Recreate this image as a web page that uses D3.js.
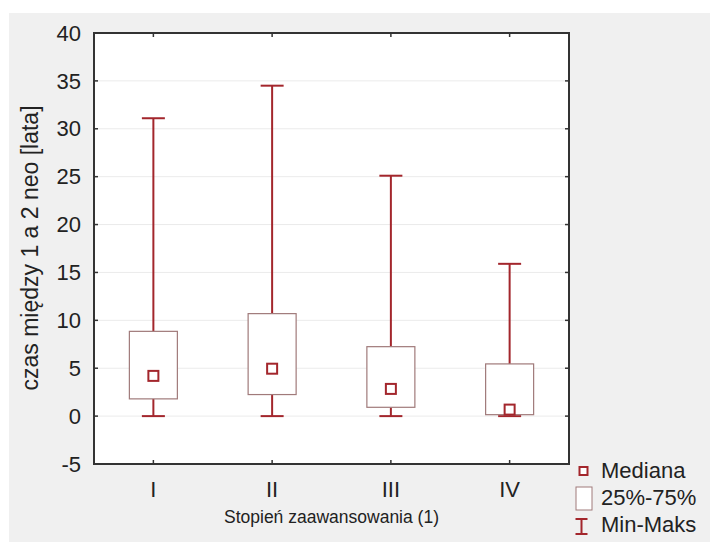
<!DOCTYPE html>
<html>
<head>
<meta charset="utf-8">
<script src="https://cdn.jsdelivr.net/npm/d3@7"></script>
<style>
  html, body { margin: 0; padding: 0; background: #ffffff; }
  svg { display: block; font-family: "Liberation Sans", Arial, sans-serif; }
</style>
</head>
<body>
<svg id="chart" width="710" height="542"></svg>
<script>
// Stage categories and box-plot statistics (years)
const categories = ["I", "II", "III", "IV"];
const minValues = [0, 0, 0, 0];
const q1Values = [1.8, 2.25, 0.92, 0.15];
const medianValues = [4.2, 4.95, 2.84, 0.68];
const q3Values = [8.85, 10.7, 7.25, 5.45];
const maxValues = [31.1, 34.5, 25.1, 15.9];
const yTicks = [-5, 0, 5, 10, 15, 20, 25, 30, 35, 40];
const legendLabels = ["Mediana", "25%-75%", "Min-Maks"];

const rows = categories.map((c, i) => ({
  cat: c, min: minValues[i], q1: q1Values[i], med: medianValues[i],
  q3: q3Values[i], max: maxValues[i]
}));

const svg = d3.select("#chart");
const W = 710, H = 542;
const margin = { left: 94, top: 33, right: 141, bottom: 78 };
const plotW = W - margin.left - margin.right;
const plotH = H - margin.top - margin.bottom;

const dark = "#a3262c";
const boxStroke = "#a07a7a";

// panel background
svg.append("rect").attr("x", 9).attr("y", 13).attr("width", W - 9).attr("height", H - 13)
  .attr("fill", "#f0f0f0");

const g = svg.append("g").attr("transform", `translate(${margin.left},${margin.top})`);

const x = d3.scaleBand().domain(categories).range([0, plotW]).padding(0);
const y = d3.scaleLinear().domain([-5, 40]).range([plotH, 0]);

g.append("rect").attr("width", plotW).attr("height", plotH).attr("fill", "#ffffff");

// horizontal grid
g.append("g").selectAll("line").data(yTicks.filter(t => t > -5 && t < 40)).join("line")
  .attr("x1", 0).attr("x2", plotW)
  .attr("y1", d => y(d)).attr("y2", d => y(d))
  .attr("stroke", "#ebebeb").attr("stroke-width", 1);

const cx = d => x(d.cat) + x.bandwidth() / 2;
const boxW = 48, capW = 23, medS = 10;

const boxes = g.append("g").selectAll("g").data(rows).join("g");

// whiskers
boxes.append("line")
  .attr("x1", cx).attr("x2", cx)
  .attr("y1", d => y(d.max)).attr("y2", d => y(d.q3))
  .attr("stroke", dark).attr("stroke-width", 2);
boxes.append("line")
  .attr("x1", cx).attr("x2", cx)
  .attr("y1", d => y(d.q1)).attr("y2", d => y(d.min))
  .attr("stroke", dark).attr("stroke-width", 2);
boxes.append("line")
  .attr("x1", d => cx(d) - capW / 2).attr("x2", d => cx(d) + capW / 2)
  .attr("y1", d => y(d.max)).attr("y2", d => y(d.max))
  .attr("stroke", dark).attr("stroke-width", 2);
boxes.append("line")
  .attr("x1", d => cx(d) - capW / 2).attr("x2", d => cx(d) + capW / 2)
  .attr("y1", d => y(d.min)).attr("y2", d => y(d.min))
  .attr("stroke", dark).attr("stroke-width", 2);

// interquartile boxes
boxes.append("rect")
  .attr("x", d => cx(d) - boxW / 2).attr("width", boxW)
  .attr("y", d => y(d.q3)).attr("height", d => y(d.q1) - y(d.q3))
  .attr("fill", "#ffffff").attr("stroke", boxStroke).attr("stroke-width", 1.2);

// medians
boxes.append("rect")
  .attr("x", d => cx(d) - medS / 2).attr("width", medS)
  .attr("y", d => y(d.med) - medS / 2).attr("height", medS)
  .attr("fill", "#ffffff").attr("stroke", dark).attr("stroke-width", 2);

// frame
g.append("rect").attr("width", plotW).attr("height", plotH)
  .attr("fill", "none").attr("stroke", "#333333").attr("stroke-width", 2);

// inward ticks on all four sides
const tk = 4;
const yTickLines = yTicks.filter(t => t > -5 && t < 40);
g.append("g").selectAll("line").data(yTickLines).join("line")
  .attr("x1", 0).attr("x2", tk).attr("y1", d => y(d)).attr("y2", d => y(d))
  .attr("stroke", "#333").attr("stroke-width", 1.5);
g.append("g").selectAll("line").data(yTickLines).join("line")
  .attr("x1", plotW - tk).attr("x2", plotW).attr("y1", d => y(d)).attr("y2", d => y(d))
  .attr("stroke", "#333").attr("stroke-width", 1.5);
g.append("g").selectAll("line").data(categories).join("line")
  .attr("x1", d => x(d) + x.bandwidth() / 2).attr("x2", d => x(d) + x.bandwidth() / 2)
  .attr("y1", 0).attr("y2", tk).attr("stroke", "#333").attr("stroke-width", 1.5);
g.append("g").selectAll("line").data(categories).join("line")
  .attr("x1", d => x(d) + x.bandwidth() / 2).attr("x2", d => x(d) + x.bandwidth() / 2)
  .attr("y1", plotH - tk).attr("y2", plotH).attr("stroke", "#333").attr("stroke-width", 1.5);

// tick labels
g.append("g").selectAll("text").data(yTicks).join("text")
  .attr("x", -13).attr("y", d => y(d)).attr("dy", "0.35em")
  .attr("text-anchor", "end").attr("font-size", 22).attr("fill", "#222")
  .text(d => d);
g.append("g").selectAll("text").data(categories).join("text")
  .attr("x", d => x(d) + x.bandwidth() / 2).attr("y", plotH + 33)
  .attr("text-anchor", "middle").attr("font-size", 22).attr("fill", "#222")
  .text(d => d);

// axis titles
svg.append("text")
  .attr("transform", `translate(38,248) rotate(-90)`)
  .attr("text-anchor", "middle").attr("font-size", 23).attr("fill", "#222")
  .text("czas między 1 a 2 neo [lata]");
svg.append("text")
  .attr("x", margin.left + plotW / 2).attr("y", 523)
  .attr("text-anchor", "middle").attr("font-size", 17.5).attr("fill", "#222")
  .text("Stopień zaawansowania (1)");

// legend
const lg = svg.append("g").attr("transform", "translate(575,0)");
lg.append("rect").attr("x", 4.5).attr("y", 467).attr("width", 8).attr("height", 8)
  .attr("fill", "#fff").attr("stroke", dark).attr("stroke-width", 2);
lg.append("rect").attr("x", 1).attr("y", 487).attr("width", 16).attr("height", 23)
  .attr("fill", "#fff").attr("stroke", boxStroke).attr("stroke-width", 1);
lg.append("line").attr("x1", 6.5).attr("x2", 6.5).attr("y1", 519).attr("y2", 534)
  .attr("stroke", dark).attr("stroke-width", 2);
lg.append("line").attr("x1", 0.5).attr("x2", 12.5).attr("y1", 519).attr("y2", 519)
  .attr("stroke", dark).attr("stroke-width", 2);
lg.append("line").attr("x1", 0.5).attr("x2", 12.5).attr("y1", 534).attr("y2", 534)
  .attr("stroke", dark).attr("stroke-width", 2);
lg.selectAll("text.lbl").data(legendLabels).join("text").attr("class", "lbl")
  .attr("x", 26).attr("y", (d, i) => 478 + i * 27)
  .attr("font-size", 22).attr("fill", "#222")
  .text(d => d);
</script>
</body>
</html>
